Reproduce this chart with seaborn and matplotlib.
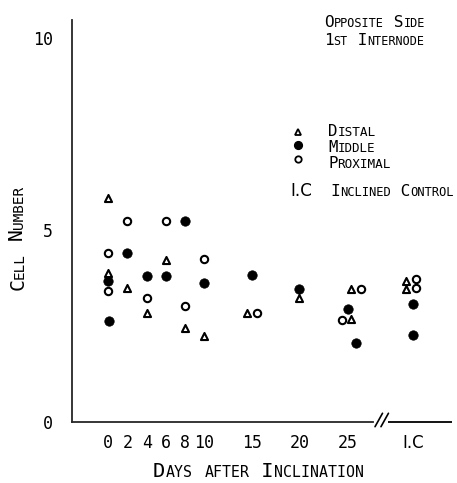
import matplotlib
matplotlib.use("Agg")
import matplotlib.pyplot as plt
from matplotlib.lines import Line2D
from matplotlib.ticker import MultipleLocator
import pandas as pd
import seaborn as sns

# Cell number on the opposite side of the 1st internode, by day after inclination
distal_day = [0, 0, 2, 4, 6, 8, 10, 14.5, 19.9, 25.3, 25.3, 31.1, 31.1]
distal_cells = [5.83, 3.87, 3.48, 2.84, 4.22, 2.44, 2.24, 2.83, 3.24, 3.45, 2.67, 3.67, 3.45]

middle_day = [0, 0.1, 2, 4, 6, 8, 10, 15, 19.9, 25.0, 25.85, 31.75, 31.75]
middle_cells = [3.67, 2.63, 4.41, 3.81, 3.81, 5.23, 3.63, 3.84, 3.45, 2.95, 2.06, 3.06, 2.26]

proximal_day = [0, 0, 2, 4, 6, 8, 10, 15.5, 24.35, 26.4, 32.1, 32.1]
proximal_cells = [4.41, 3.42, 5.23, 3.23, 5.23, 3.02, 4.24, 2.83, 2.65, 3.45, 3.71, 3.48]

x_ticks = [0, 2, 4, 6, 8, 10, 15, 20, 25, 31.8]
x_tick_labels = ["0", "2", "4", "6", "8", "10", "15", "20", "25", "I.C"]
x_minor_ticks = [26]
y_ticks = [0, 5, 10]
y_tick_labels = ["0", "5", "10"]

df = pd.concat([
    pd.DataFrame({"day": distal_day, "cells": distal_cells, "position": "Distal"}),
    pd.DataFrame({"day": middle_day, "cells": middle_cells, "position": "Middle"}),
    pd.DataFrame({"day": proximal_day, "cells": proximal_cells, "position": "Proximal"}),
], ignore_index=True)

sns.set_theme(style="white")
MONO = "DejaVu Sans Mono"
SANS = "DejaVu Sans"
plt.rcParams["font.family"] = [MONO, SANS]

W, H, DPI = 457, 483, 100
fig = plt.figure(figsize=(W / DPI, H / DPI), dpi=DPI)
fig.patch.set_facecolor("white")
ax = fig.add_axes([71.7 / W, 1 - 421.7 / H, 380 / W, 401.7 / H])
ax.set_facecolor("white")

styles = {
    "Distal": dict(marker="^", s=26, color="white", edgecolor="black", linewidth=1.5),
    "Middle": dict(marker="o", s=46, color="black", edgecolor="black", linewidth=0.5),
    "Proximal": dict(marker="o", s=28, color="white", edgecolor="black", linewidth=1.5),
}
for pos, st in styles.items():
    sns.scatterplot(data=df[df["position"] == pos], x="day", y="cells", ax=ax,
                    legend=False, zorder=3, clip_on=False, **st)

ax.set_xlim(-3.82, 35.83)
ax.set_ylim(0, 10.48)
ax.set_xlabel("")
ax.set_ylabel("")

# axes frame: left spine and a broken bottom axis
for side in ("top", "right"):
    ax.spines[side].set_visible(False)
ax.spines["left"].set_linewidth(1.3)
ax.spines["bottom"].set_linewidth(1.3)
ax.spines["bottom"].set_bounds(-3.82, 27.6)
ax.plot([29.2, 35.83], [0, 0], color="black", lw=1.3, clip_on=False, solid_capstyle="butt")
for x0 in (27.83, 28.45):
    ax.plot([x0, x0 + 0.78], [-0.13, 0.22], color="black", lw=1.2, clip_on=False)

ax.set_xticks(x_ticks)
ax.set_xticklabels(x_tick_labels)
ax.set_xticks(x_minor_ticks, minor=True)
ax.set_yticks(y_ticks)
ax.set_yticklabels(y_tick_labels)
ax.yaxis.set_minor_locator(MultipleLocator(1))
ax.tick_params(axis="x", which="both", direction="in", length=3.8, width=1.1,
               pad=9.0, labelsize=12, colors="black")
ax.tick_params(axis="y", which="major", direction="in", length=9.5, width=1.1,
               pad=13.5, labelsize=12, colors="black")
ax.tick_params(axis="y", which="minor", direction="in", length=5, width=1.1, colors="black")
for lab in ax.get_xticklabels() + ax.get_yticklabels():
    lab.set_family(MONO)
ax.get_xticklabels()[-1].set_family(SANS)

# small-caps lettering: capitals at full height, lowercase set as smaller capitals,
# sized so the whole line spans the given width
ADV = 0.602


def small_caps(x, y, text, width, ratio=0.72, align="left", vertical=False):
    runs = []
    for ch in text:
        big = not ch.islower()
        if runs and runs[-1][1] == big:
            runs[-1][0] += ch
        else:
            runs.append([ch, big])
    units = sum(len(r) * (1.0 if b else ratio) for r, b in runs) * ADV
    em_big = width / units
    pos = {"left": 0.0, "center": -width / 2, "right": -width}[align]
    for r, b in runs:
        em = em_big if b else em_big * ratio
        px, py = (x, y - pos) if vertical else (x + pos, y)
        if r.strip():
            fig.text(px / W, 1 - py / H, r if b else r.upper(),
                     fontsize=em * 72 / DPI, family=MONO, color="black",
                     ha="left", va="baseline", rotation=90 if vertical else 0,
                     rotation_mode="anchor")
        pos += len(r) * ADV * em


small_caps(324, 26.7, "Opposite Side", 101, 0.74)
small_caps(324, 45.0, "1st Internode", 100, 0.74)

# legend keys
handles = [
    Line2D([], [], ls="", marker="^", ms=4.6, mfc="white", mec="black", mew=1.3),
    Line2D([], [], ls="", marker="o", ms=5.6, mfc="black", mec="black"),
    Line2D([], [], ls="", marker="o", ms=4.6, mfc="white", mec="black", mew=1.3),
]
ax.legend(handles, ["", "", ""], loc="center", bbox_to_anchor=(298.3 / W, 1 - 147.0 / H),
          bbox_transform=fig.transFigure, frameon=False, fontsize=8, handlelength=1.0,
          handleheight=1.5, handletextpad=0, labelspacing=0.0, borderpad=0, borderaxespad=0)
small_caps(328, 136.0, "Distal", 48, 0.8)
small_caps(328, 152.0, "Middle", 47, 0.8)
small_caps(328, 168.0, "Proximal", 63, 0.8)
ic_em = 22.0 / 1.311
fig.text(290 / W, 1 - 195.5 / H, "I.C", fontsize=ic_em * 72 / DPI, family=SANS,
         ha="left", va="baseline", color="black")
small_caps(330, 195.5, "Inclined Control", 124, 0.76)

# axis titles
small_caps(258, 477.3, "Days after Inclination", 210, 0.73, align="center")
small_caps(23.3, 238, "Cell Number", 105, 0.73, align="center", vertical=True)

fig.savefig("out.png", dpi=DPI, facecolor="white")
